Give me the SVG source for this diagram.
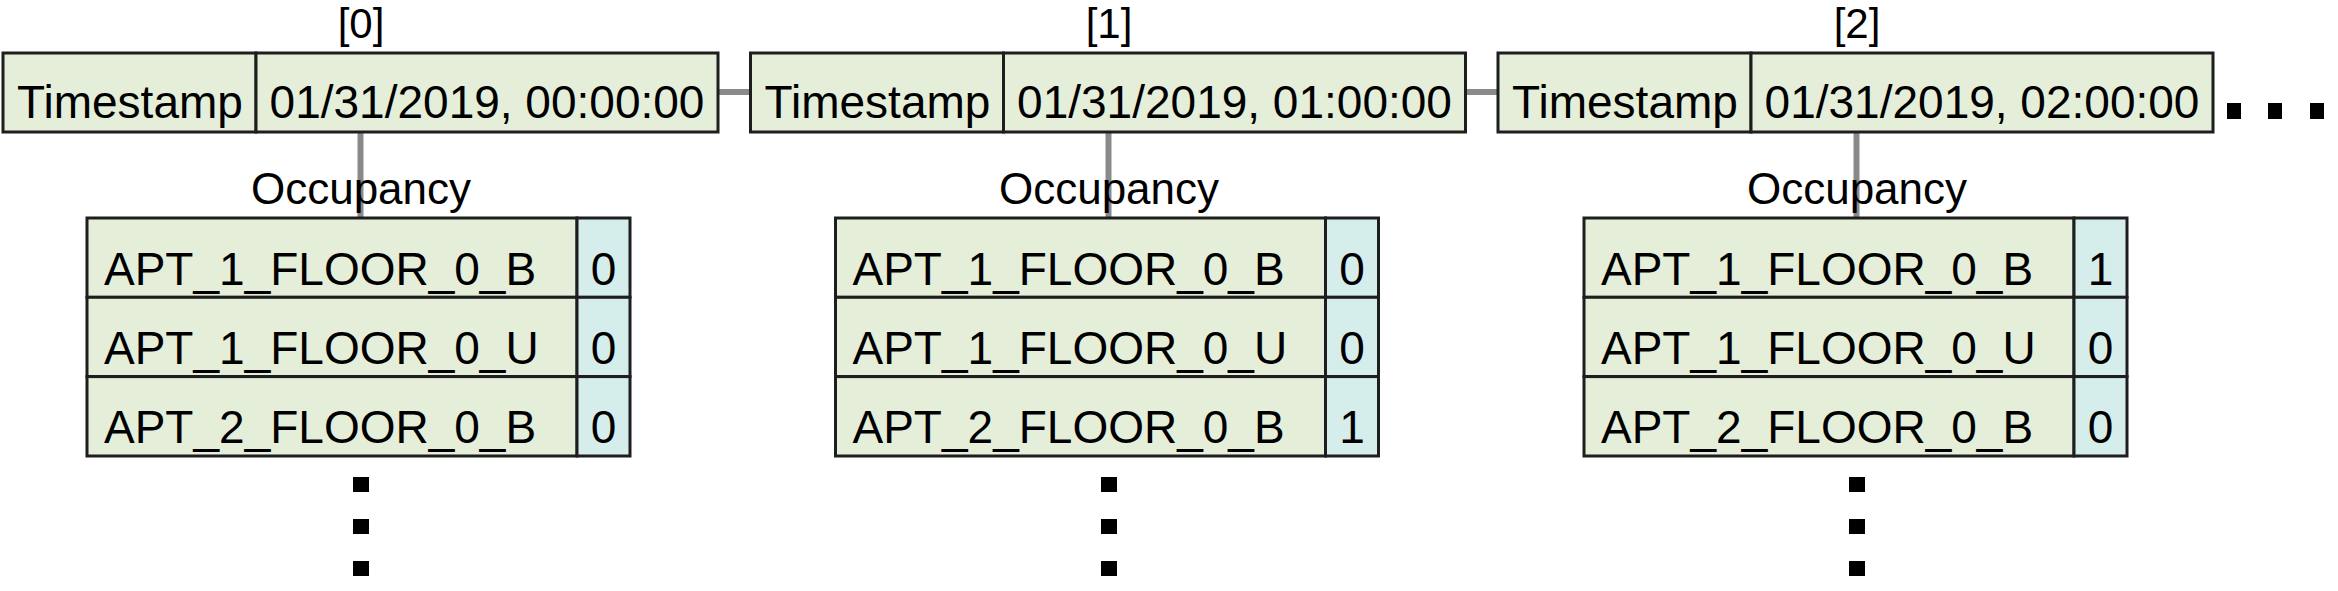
<svg xmlns="http://www.w3.org/2000/svg" width="2338" height="591" viewBox="0 0 2338 591">
<style>
text{font-family:"Liberation Sans",Arial,sans-serif;fill:#000}
.t{font-size:46px}
.c{text-anchor:middle}
.lbl{font-size:42px;text-anchor:middle}
.occ{font-size:44px;text-anchor:middle}
.g{fill:#e5eed9;stroke:#1e1e1e;stroke-width:3}
.b{fill:#d6eeeb;stroke:#1e1e1e;stroke-width:3}
.con{stroke:#8a8a8a;stroke-width:6;fill:none}
.dot{fill:#000}
</style>
<rect width="2338" height="591" fill="#fff"/>
<g id="connectors">
<line class="con" x1="718" y1="92" x2="750.5" y2="92"/>
<line class="con" x1="1465.5" y1="92" x2="1498" y2="92"/>
<line class="con" x1="360.5" y1="132" x2="360.5" y2="218"/>
<line class="con" x1="1108.5" y1="132" x2="1108.5" y2="218"/>
<line class="con" x1="1856.5" y1="132" x2="1856.5" y2="218"/>
</g>
<g id="node0">
<text class="lbl" x="361" y="38">[0]</text>
<rect class="g" x="3" y="53" width="253" height="79"/>
<rect class="g" x="256" y="53" width="462" height="79"/>
<text class="t c" x="130" y="118">Timestamp</text>
<text class="t c" x="487" y="118">01/31/2019, 00:00:00</text>
</g>
<g id="table0">
<text class="occ" x="361" y="204">Occupancy</text>
<rect class="g" x="87" y="218" width="490" height="79.3"/>
<rect class="g" x="87" y="297.3" width="490" height="79.3"/>
<rect class="g" x="87" y="376.6" width="490" height="79.4"/>
<rect class="b" x="577" y="218" width="53" height="79.3"/>
<rect class="b" x="577" y="297.3" width="53" height="79.3"/>
<rect class="b" x="577" y="376.6" width="53" height="79.4"/>
<text class="t" x="104" y="285">APT_1_FLOOR_0_B</text>
<text class="t" x="104" y="364">APT_1_FLOOR_0_U</text>
<text class="t" x="104" y="443">APT_2_FLOOR_0_B</text>
<text class="t c" x="603.5" y="285">0</text>
<text class="t c" x="603.5" y="364">0</text>
<text class="t c" x="603.5" y="443">0</text>
<rect class="dot" x="353" y="477" width="16" height="15"/>
<rect class="dot" x="353" y="519" width="16" height="15"/>
<rect class="dot" x="353" y="561" width="16" height="15"/>
</g>
<g id="node1">
<text class="lbl" x="1109" y="38">[1]</text>
<rect class="g" x="750.5" y="53" width="253" height="79"/>
<rect class="g" x="1003.5" y="53" width="462" height="79"/>
<text class="t c" x="877.5" y="118">Timestamp</text>
<text class="t c" x="1234.5" y="118">01/31/2019, 01:00:00</text>
</g>
<g id="table1">
<text class="occ" x="1109" y="204">Occupancy</text>
<rect class="g" x="835.5" y="218" width="490" height="79.3"/>
<rect class="g" x="835.5" y="297.3" width="490" height="79.3"/>
<rect class="g" x="835.5" y="376.6" width="490" height="79.4"/>
<rect class="b" x="1325.5" y="218" width="53" height="79.3"/>
<rect class="b" x="1325.5" y="297.3" width="53" height="79.3"/>
<rect class="b" x="1325.5" y="376.6" width="53" height="79.4"/>
<text class="t" x="852.5" y="285">APT_1_FLOOR_0_B</text>
<text class="t" x="852.5" y="364">APT_1_FLOOR_0_U</text>
<text class="t" x="852.5" y="443">APT_2_FLOOR_0_B</text>
<text class="t c" x="1352" y="285">0</text>
<text class="t c" x="1352" y="364">0</text>
<text class="t c" x="1352" y="443">1</text>
<rect class="dot" x="1101" y="477" width="16" height="15"/>
<rect class="dot" x="1101" y="519" width="16" height="15"/>
<rect class="dot" x="1101" y="561" width="16" height="15"/>
</g>
<g id="node2">
<text class="lbl" x="1857" y="38">[2]</text>
<rect class="g" x="1498" y="53" width="253" height="79"/>
<rect class="g" x="1751" y="53" width="462" height="79"/>
<text class="t c" x="1625" y="118">Timestamp</text>
<text class="t c" x="1982" y="118">01/31/2019, 02:00:00</text>
<rect class="dot" x="2227" y="103" width="14" height="16"/>
<rect class="dot" x="2268" y="103" width="14" height="16"/>
<rect class="dot" x="2310" y="103" width="14" height="16"/>
</g>
<g id="table2">
<text class="occ" x="1857" y="204">Occupancy</text>
<rect class="g" x="1584" y="218" width="490" height="79.3"/>
<rect class="g" x="1584" y="297.3" width="490" height="79.3"/>
<rect class="g" x="1584" y="376.6" width="490" height="79.4"/>
<rect class="b" x="2074" y="218" width="53" height="79.3"/>
<rect class="b" x="2074" y="297.3" width="53" height="79.3"/>
<rect class="b" x="2074" y="376.6" width="53" height="79.4"/>
<text class="t" x="1601" y="285">APT_1_FLOOR_0_B</text>
<text class="t" x="1601" y="364">APT_1_FLOOR_0_U</text>
<text class="t" x="1601" y="443">APT_2_FLOOR_0_B</text>
<text class="t c" x="2100.5" y="285">1</text>
<text class="t c" x="2100.5" y="364">0</text>
<text class="t c" x="2100.5" y="443">0</text>
<rect class="dot" x="1849" y="477" width="16" height="15"/>
<rect class="dot" x="1849" y="519" width="16" height="15"/>
<rect class="dot" x="1849" y="561" width="16" height="15"/>
</g>
</svg>
